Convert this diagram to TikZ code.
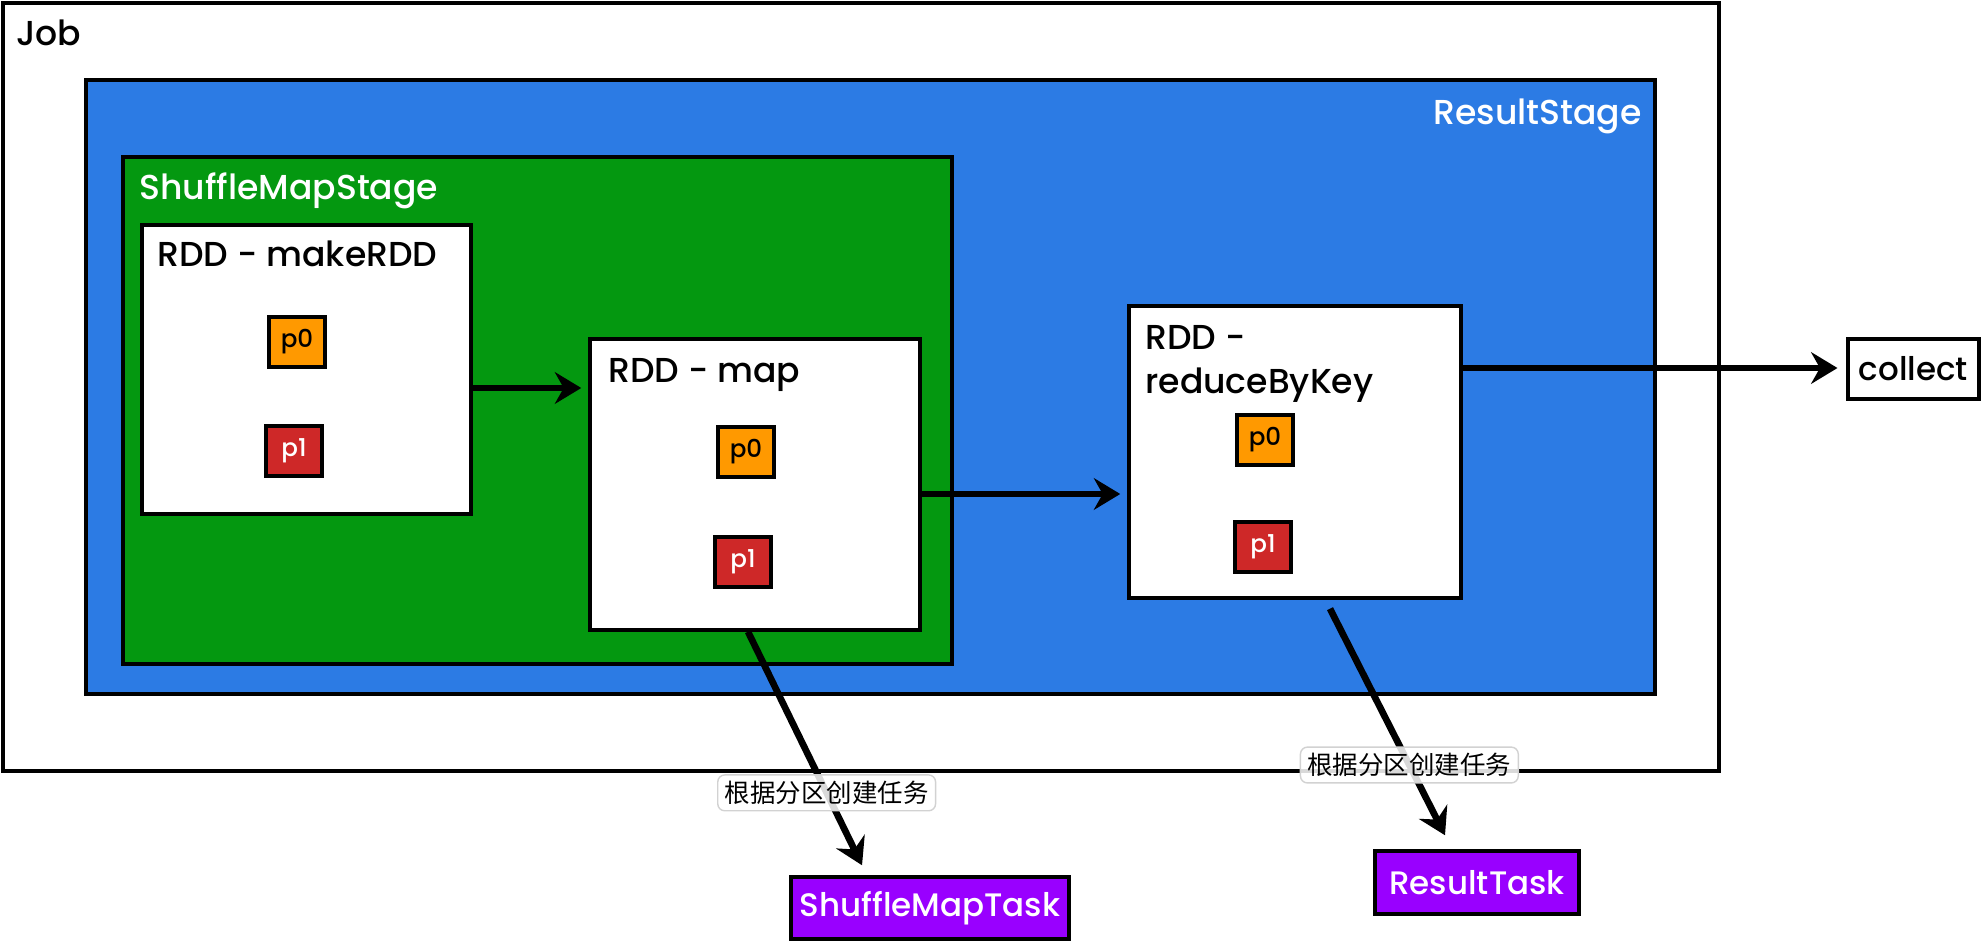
\documentclass[tikz,border=0pt]{standalone}
\usepackage{fontspec}
\setmainfont{Poppins}
\newfontfamily\medfont{Poppins Medium}
\newfontfamily\cjk{Noto Sans CJK SC}
\usetikzlibrary{arrows.meta}
\definecolor{rsblue}{RGB}{44,123,228}
\definecolor{smgreen}{RGB}{4,152,16}
\definecolor{porange}{RGB}{255,153,0}
\definecolor{pred}{RGB}{206,40,40}
\definecolor{tpurple}{RGB}{153,0,255}
\definecolor{lblgray}{RGB}{210,210,210}
\begin{document}
\begin{tikzpicture}[x=0.02cm,y=-0.02cm,
  box/.style={draw=black, line width=2pt, rectangle, inner sep=0pt},
  rdd/.style={box, fill=white},
  part/.style={box, line width=1.8pt, minimum width=1.12cm, minimum height=1.0cm, font=\medfont\fontsize{14}{16}\selectfont},
  pzero/.style={part, fill=porange, text=black},
  pone/.style={part, fill=pred, text=white},
  txt/.style={font=\medfont\fontsize{19.7}{24}\selectfont, inner sep=0pt},
  arr/.style={line width=3.8pt, -{Stealth[length=15pt,width=18pt,inset=5pt]}},
  lbl/.style={fill=white, fill opacity=0.85, text opacity=1, draw=lblgray, line width=0.8pt, rounded corners=4pt, font=\cjk\fontsize{14.5}{16}\selectfont, inner xsep=4pt, inner ysep=3.5pt},
  task/.style={box, fill=tpurple, text=white, font=\medfont\fontsize{18.5}{22}\selectfont}
]
\fill[white] (0,0) rectangle (1982,942);
\useasboundingbox (0,0) rectangle (1982,942);

% containers
\node[box, fill=white, minimum width=34.32cm, minimum height=15.36cm] (job) at (861,387) {};
\node[box, fill=rsblue, minimum width=31.38cm, minimum height=12.28cm] (rs) at (870.5,387) {};
\node[box, fill=smgreen, minimum width=16.58cm, minimum height=10.14cm] (sms) at (537.5,410.5) {};

% container labels
\node[txt, anchor=base west] (jobl) at (16,46) {Job};
\node[txt, anchor=base east, text=white] (rsl) at (1642,125) {ResultStage};
\node[txt, anchor=base west, text=white] (smsl) at (139,200) {ShuffleMapStage};

% RDD boxes
\node[rdd, minimum width=6.58cm, minimum height=5.78cm] (make) at (306.5,369.5) {};
\node[rdd, minimum width=6.60cm, minimum height=5.82cm] (map) at (755,484.5) {};
\node[rdd, minimum width=6.64cm, minimum height=5.84cm] (rbk) at (1295,452) {};

\node[txt, anchor=base west] (makel) at (157,267) {RDD - makeRDD};
\node[txt, anchor=base west] (mapl) at (608,383) {RDD - map};
\node[txt, anchor=base west] (rbkl1) at (1145,350) {RDD -};
\node[txt, anchor=base west] (rbkl2) at (1145,394) {reduceByKey};

% partitions
\node[pzero] (m0) at (297,342) {p0};
\node[pone] (m1) at (294,451) {p1};
\node[pzero] (p0) at (746,452) {p0};
\node[pone] (p1) at (743,562) {p1};
\node[pzero] (r0) at (1265,440) {p0};
\node[pone] (r1) at (1263,547) {p1};

% outside nodes
\node[box, fill=white, minimum width=2.62cm, minimum height=1.20cm, font=\medfont\fontsize{18.5}{22}\selectfont] (collect) at (1913.5,369) {collect};
\node[task, minimum width=5.56cm, minimum height=1.24cm] (smt) at (930,908) {ShuffleMapTask};
\node[task, minimum width=4.08cm, minimum height=1.26cm] (rt) at (1477,882.5) {ResultTask};

% connectors
\draw[arr, shorten >=4pt] ([yshift=-0.37cm]make.east) coordinate (a1s) -- (a1s -| map.west);
\draw[arr, shorten >=4pt] ([yshift=-0.19cm]map.east) coordinate (a2s) -- (a2s -| rbk.west);
\draw[arr, shorten >=5pt] ([yshift=1.68cm]rbk.east) coordinate (a3s) -- (a3s -| collect.west);
\draw[arr] ([xshift=-0.14cm]map.south) -- ([xshift=-1.36cm,yshift=0.2cm]smt.north)
  node[lbl, pos=0.69] (l1) {根据分区创建任务};
\draw[arr] ([xshift=0.7cm,yshift=-0.18cm]rbk.south) -- ([xshift=-0.64cm,yshift=0.28cm]rt.north)
  node[lbl, pos=0.69] (l2) {根据分区创建任务};
\end{tikzpicture}
\end{document}
